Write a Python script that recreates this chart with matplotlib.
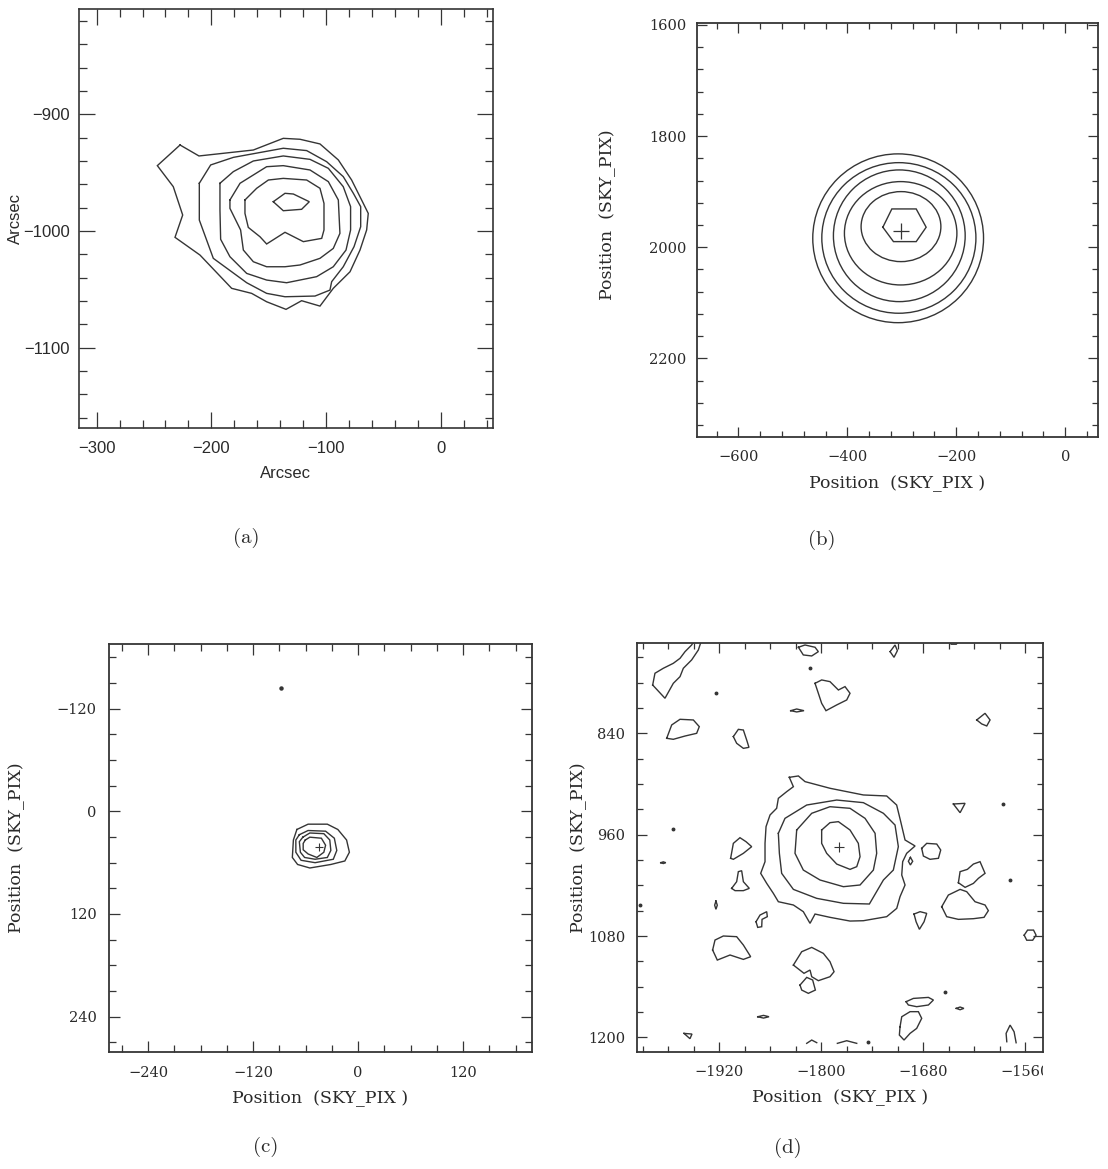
import matplotlib.pyplot as plt
from matplotlib.patches import Ellipse
from matplotlib.ticker import MultipleLocator, ScalarFormatter
from matplotlib.transforms import Bbox, TransformedBbox

FIG_W, FIG_H = 1108, 1169
INK = "#353535"
TEXT = "#2a2a2a"

# ---------------------------------------------------------------- panel (a)
A_XLIM = (-315.4, 45.3)
A_YLIM = (-1169.0, -809.8)
A_XTICKS = [-300, -200, -100, 0]
A_YTICKS = [-1100, -1000, -900]

# contour levels, outermost first (arcsec)
A_CONTOURS = [
    [(-227.3, -926.3), (-210.8, -935.7), (-163.4, -930.6), (-137.3, -920.6),
     (-122.7, -921.4), (-105.3, -925.4), (-89.3, -939.1), (-77.7, -956.3),
     (-69.0, -973.4), (-63.2, -984.9), (-64.6, -999.1), (-70.4, -1016.3),
     (-79.1, -1034.9), (-93.7, -1049.1), (-105.3, -1064.3), (-121.3, -1059.7),
     (-134.9, -1067.1), (-151.8, -1060.6), (-164.9, -1053.4), (-182.3, -1049.1),
     (-209.9, -1020.6), (-231.7, -1005.4), (-225.0, -986.3), (-233.2, -962.0),
     (-247.1, -944.0)],
    [(-210.5, -959.1), (-200.6, -943.4), (-180.8, -936.9), (-137.3, -929.1),
     (-116.9, -931.1), (-99.5, -940.6), (-85.0, -953.4), (-76.2, -967.7),
     (-69.8, -979.1), (-69.8, -996.3), (-75.6, -1013.4), (-85.0, -1030.6),
     (-95.1, -1043.4), (-96.6, -1050.6), (-109.6, -1055.7), (-135.8, -1056.3),
     (-151.8, -1053.4), (-169.2, -1044.3), (-198.3, -1023.4), (-210.5, -990.6)],
    [(-192.5, -959.1), (-180.8, -949.1), (-163.4, -940.0), (-137.3, -935.7),
     (-114.0, -938.6), (-98.0, -946.3), (-85.0, -962.0), (-78.6, -979.1),
     (-78.6, -999.1), (-82.6, -1016.3), (-93.7, -1030.6), (-108.2, -1039.1),
     (-134.4, -1044.3), (-151.8, -1042.0), (-169.2, -1036.3), (-183.8, -1022.0),
     (-191.9, -1007.1), (-192.5, -982.0)],
    [(-183.8, -973.4), (-175.0, -959.1), (-151.8, -944.9), (-137.3, -944.0),
     (-114.0, -947.7), (-98.0, -957.7), (-89.3, -973.4), (-87.9, -1002.0),
     (-93.7, -1014.9), (-105.3, -1023.4), (-122.7, -1029.1), (-135.8, -1030.6),
     (-151.8, -1030.6), (-163.4, -1026.3), (-172.1, -1016.3), (-174.5, -999.1),
     (-183.8, -980.6)],
    [(-170.7, -973.4), (-160.5, -963.4), (-150.3, -956.3), (-137.3, -954.9),
     (-116.9, -956.3), (-105.3, -963.4), (-101.8, -976.3), (-101.8, -999.1),
     (-103.8, -1006.3), (-119.8, -1009.1), (-135.8, -1001.1), (-151.8, -1011.1),
     (-157.6, -1004.9), (-167.8, -996.9), (-170.7, -984.9)],
    [(-146.0, -974.9), (-135.8, -967.7), (-128.5, -968.3), (-114.6, -974.9),
     (-121.3, -981.4), (-137.3, -982.6)],
]

# ---------------------------------------------------------------- panel (b)
B_XLIM = (-676.4, 60.6)
B_YLIM = (2341.0, 1597.0)
B_XTICKS = [-600, -400, -200, 0]
B_YTICKS = [1600, 1800, 2000, 2200]

# nearly circular levels: centre, half-width, half-height
B_RING_CX = [-306.7, -305.4, -304.6, -302.1, -301.5]
B_RING_CY = [1983.9, 1983.3, 1979.4, 1974.9, 1962.9]
B_RING_RX = [156.7, 141.4, 120.9, 103.2, 73.2]
B_RING_RY = [151.9, 135.5, 118.5, 93.0, 63.0]
B_CORE = [(-334.8, 1964.0), (-318.3, 1931.1), (-273.6, 1931.1),
          (-255.3, 1964.0), (-273.6, 1989.9), (-315.3, 1989.9)]
B_PEAK = (-301.2, 1970.1)

# ---------------------------------------------------------------- panel (c)
C_XLIM = (-285.3, 198.7)
C_YLIM = (281.7, -195.7)
C_XTICKS = [-240, -120, 0, 120]
C_YTICKS = [-120, 0, 120, 240]

C_CONTOURS = [
    [(-70.0, 21.3), (-57.2, 15.1), (-35.2, 15.1), (-23.2, 21.3), (-13.2, 33.6),
     (-10.0, 47.9), (-15.2, 58.1), (-31.2, 62.2), (-55.2, 66.3), (-69.2, 62.2),
     (-75.2, 54.0), (-74.0, 33.6)],
    [(-67.2, 27.4), (-57.2, 22.5), (-37.2, 23.3), (-27.2, 31.5), (-24.4, 45.8),
     (-28.4, 56.1), (-49.2, 60.1), (-65.2, 57.3), (-71.2, 47.9), (-71.2, 33.6)],
    [(-63.2, 30.3), (-55.2, 25.4), (-39.2, 26.2), (-32.4, 33.6), (-31.2, 45.8),
     (-35.2, 54.0), (-49.2, 56.1), (-61.2, 54.0), (-66.0, 47.9), (-67.2, 35.6)],
    [(-60.4, 33.6), (-55.2, 30.3), (-42.0, 31.5), (-37.2, 39.7), (-39.2, 47.9),
     (-47.2, 54.0), (-57.2, 49.9), (-62.8, 45.0), (-62.8, 37.6)],
]
C_PEAK = (-45.2, 41.7)
C_DOTS_X = [-88.0]
C_DOTS_Y = [-144.4]

# ---------------------------------------------------------------- panel (d)
D_XLIM = (-2016.6, -1538.5)
D_YLIM = (1217.0, 732.7)
D_XTICKS = [-1920, -1800, -1680, -1560]
D_YTICKS = [840, 960, 1080, 1200]

D_SOURCE = [
    [(-1837.6, 892.1), (-1826.9, 890.5), (-1819.1, 897.2), (-1789.6, 905.1),
     (-1750.4, 913.0), (-1722.9, 914.2), (-1711.2, 924.9), (-1706.4, 944.6),
     (-1701.3, 966.3), (-1689.5, 973.4), (-1699.4, 982.1), (-1704.1, 992.0),
     (-1705.2, 1007.8), (-1701.3, 1019.6), (-1707.2, 1033.4), (-1711.1, 1047.3),
     (-1722.9, 1057.1), (-1750.4, 1061.9), (-1766.1, 1062.3), (-1789.7, 1057.9),
     (-1807.3, 1054.0), (-1813.2, 1065.0), (-1821.1, 1051.2), (-1832.8, 1043.3),
     (-1850.5, 1039.4), (-1856.4, 1029.5), (-1864.2, 1017.7), (-1871.3, 1005.8),
     (-1866.2, 992.0), (-1866.2, 970.3), (-1865.0, 950.5), (-1860.3, 936.7),
     (-1852.5, 928.8), (-1850.5, 917.0), (-1840.7, 909.1), (-1832.8, 903.2)],
    [(-1850.5, 958.4), (-1842.7, 940.7), (-1817.1, 924.9), (-1781.8, 919.0),
     (-1750.4, 922.1), (-1726.8, 934.7), (-1713.1, 948.6), (-1709.2, 974.2),
     (-1715.1, 1001.9), (-1726.8, 1013.7), (-1743.3, 1042.1), (-1773.9, 1041.3),
     (-1805.4, 1035.4), (-1832.8, 1024.8), (-1846.6, 1005.8), (-1849.3, 982.1)],
    [(-1828.9, 954.5), (-1811.2, 934.7), (-1789.7, 926.9), (-1766.1, 928.8),
     (-1748.4, 940.7), (-1736.6, 958.4), (-1734.7, 982.1), (-1738.6, 1001.9),
     (-1754.3, 1019.6), (-1773.9, 1021.6), (-1801.4, 1013.7), (-1821.1, 1001.9),
     (-1830.9, 982.1)],
    [(-1799.5, 954.5), (-1789.7, 945.8), (-1779.8, 944.6), (-1766.1, 954.5),
     (-1756.3, 970.3), (-1754.3, 986.1), (-1758.2, 997.9), (-1766.1, 1001.1),
     (-1781.8, 994.8), (-1793.6, 982.1), (-1799.5, 970.3)],
]
D_PEAK = (-1778.7, 975.0)

# isolated lowest-level islands of background noise
D_NOISE = [
    [(-1998.5, 782.8), (-1995.8, 768.9), (-1986.0, 763.0), (-1974.2, 757.1),
     (-1966.3, 751.2), (-1960.4, 743.3), (-1952.6, 735.4), (-1946.7, 725.5),
     (-1939.6, 725.5), (-1944.7, 741.3), (-1952.6, 753.1), (-1962.4, 763.0),
     (-1966.3, 772.9), (-1974.2, 780.8), (-1984.0, 798.5)],
    [(-1826.9, 738.1), (-1819.1, 735.4), (-1807.3, 738.1), (-1803.4, 743.3),
     (-1811.2, 748.4), (-1821.1, 747.2)],
    [(-1718.9, 743.3), (-1713.1, 735.4), (-1710.3, 742.1), (-1714.3, 750.0)],
    [(-1649.0, 731.0), (-1638.0, 731.0), (-1641.0, 734.5), (-1647.0, 734.5)],
    [(-1836.0, 813.2), (-1828.9, 811.2), (-1820.3, 813.2), (-1828.9, 814.7)],
    [(-1807.3, 780.8), (-1799.5, 776.8), (-1789.7, 778.8), (-1779.8, 788.7),
     (-1772.0, 784.7), (-1766.1, 792.6), (-1770.0, 800.5), (-1781.8, 806.4),
     (-1794.4, 813.2), (-1799.5, 804.5), (-1803.4, 792.6)],
    [(-1616.9, 824.2), (-1607.1, 816.3), (-1601.2, 824.2), (-1605.1, 831.3),
     (-1611.0, 828.9)],
    [(-1982.0, 845.9), (-1976.1, 830.1), (-1966.3, 823.4), (-1950.6, 824.2),
     (-1943.6, 832.1), (-1946.7, 840.0), (-1960.4, 843.2), (-1974.2, 847.1)],
    [(-1903.5, 843.9), (-1897.6, 835.3), (-1891.7, 836.1), (-1887.8, 847.9),
     (-1885.1, 856.6), (-1891.7, 857.8), (-1899.6, 851.8)],
    [(-1989.0, 993.2), (-1986.0, 992.2), (-1983.0, 993.2), (-1986.0, 994.2)],
    [(-1906.7, 988.0), (-1903.5, 970.3), (-1895.7, 963.6), (-1888.6, 968.3),
     (-1881.9, 974.2), (-1891.7, 982.1), (-1903.5, 989.2)],
    [(-1905.5, 1023.6), (-1899.6, 1015.7), (-1897.6, 1003.8), (-1893.7, 1002.7),
     (-1891.7, 1015.7), (-1884.7, 1023.6), (-1891.7, 1026.3), (-1901.5, 1026.3)],
    [(-1924.0, 1038.6), (-1922.4, 1043.5), (-1924.0, 1048.4), (-1925.5, 1043.5)],
    [(-1876.8, 1063.1), (-1872.1, 1055.2), (-1864.2, 1051.2), (-1863.5, 1057.1),
     (-1869.7, 1060.3), (-1870.1, 1069.0), (-1874.8, 1069.8)],
    [(-1927.9, 1096.6), (-1925.1, 1084.8), (-1915.3, 1080.0), (-1899.6, 1080.8),
     (-1891.7, 1090.7), (-1883.1, 1104.5), (-1891.7, 1107.7), (-1907.4, 1102.5),
     (-1922.4, 1108.5)],
    [(-1832.8, 1114.4), (-1823.0, 1098.6), (-1811.2, 1093.5), (-1797.5, 1100.6),
     (-1789.7, 1110.4), (-1784.9, 1122.3), (-1789.7, 1128.2), (-1803.4, 1132.9),
     (-1811.2, 1128.2), (-1813.2, 1120.3), (-1820.3, 1124.2)],
    [(-1825.0, 1138.1), (-1817.1, 1129.0), (-1810.1, 1132.1), (-1806.9, 1144.0),
     (-1815.2, 1147.9), (-1823.0, 1144.0)],
    [(-1700.1, 1157.8), (-1691.5, 1153.9), (-1673.8, 1152.7), (-1667.9, 1155.8),
     (-1673.8, 1161.7), (-1687.6, 1163.7), (-1697.4, 1161.7)],
    [(-1641.0, 1165.7), (-1636.5, 1164.1), (-1632.0, 1165.7), (-1636.5, 1167.3)],
    [(-1707.2, 1187.4), (-1705.2, 1175.6), (-1695.4, 1169.6), (-1685.6, 1169.6),
     (-1681.7, 1177.5), (-1687.6, 1189.4), (-1695.4, 1195.3), (-1702.5, 1203.2),
     (-1708.0, 1197.3)],
    [(-1874.8, 1175.6), (-1868.0, 1174.0), (-1861.5, 1175.6), (-1868.0, 1177.2)],
    [(-1961.6, 1195.3), (-1952.2, 1196.1), (-1954.6, 1201.6)],
    [(-1658.1, 1045.3), (-1650.3, 1031.5), (-1636.5, 1024.8), (-1628.7, 1027.5),
     (-1618.9, 1039.4), (-1607.1, 1043.3), (-1603.2, 1050.0), (-1608.3, 1057.9),
     (-1620.8, 1059.5), (-1638.5, 1060.3), (-1652.3, 1057.1)],
    [(-1638.5, 1016.9), (-1636.5, 1003.8), (-1627.9, 1001.1), (-1620.8, 994.8),
     (-1613.0, 992.0), (-1607.1, 1005.8), (-1614.9, 1011.7), (-1620.8, 1017.7),
     (-1630.6, 1022.4)],
    [(-1681.7, 976.2), (-1675.8, 970.3), (-1664.0, 971.1), (-1659.3, 978.2),
     (-1662.0, 988.0), (-1671.9, 989.2), (-1679.7, 985.3)],
    [(-1695.0, 986.9), (-1692.3, 991.5), (-1695.0, 995.9), (-1697.4, 991.5)],
    [(-1644.4, 923.7), (-1630.6, 922.9), (-1636.5, 934.0)],
    [(-1690.7, 1054.0), (-1683.6, 1051.2), (-1675.8, 1053.2), (-1678.9, 1063.1),
     (-1684.4, 1072.1), (-1688.3, 1063.1)],
    [(-1561.0, 1079.0), (-1557.0, 1073.0), (-1550.0, 1073.0), (-1547.0, 1079.0),
     (-1551.0, 1085.0), (-1558.0, 1085.0)],
]

# level crossings that run into the lower edge of the map
D_ARCS = [
    [(-1817.1, 1207.1), (-1811.2, 1203.2), (-1805.3, 1206.3)],
    [(-1781.0, 1207.1), (-1770.0, 1204.0), (-1758.2, 1207.1)],
    [(-1581.5, 1205.2), (-1582.3, 1195.3), (-1577.6, 1185.5), (-1572.9, 1193.4),
     (-1570.5, 1206.4)],
]
D_DOTS_X = [-1813.2, -1923.9, -1974.2, -1654.2, -1585.5, -1577.6, -1744.5, -2013.4]
D_DOTS_Y = [762.2, 792.6, 953.7, 1146.0, 923.7, 1013.7, 1206.0, 1043.3]

PANEL_TAGS = ["(a)", "(b)", "(c)", "(d)"]


def add_panel(fig, x0, y0, x1, y1):
    """Axes placed by its frame corners in figure pixels (top-left origin)."""
    return fig.add_axes([x0 / FIG_W, 1 - y1 / FIG_H,
                         (x1 - x0) / FIG_W, (y1 - y0) / FIG_H])


def draw_loop(ax, pts, closed=True):
    xs = [p[0] for p in pts]
    ys = [p[1] for p in pts]
    if closed:
        xs.append(xs[0])
        ys.append(ys[0])
    ax.plot(xs, ys, color=INK, lw=1.0, solid_joinstyle="miter")


def frame(ax, xticks, yticks, xlim, ylim, minor_x, minor_y, family, size,
          major_len, minor_len, xpad, ypad, spine_w):
    ax.set_xticks(xticks)
    ax.set_yticks(yticks)
    ax.set_xlim(*xlim)
    ax.set_ylim(*ylim)
    ax.xaxis.set_minor_locator(MultipleLocator(minor_x))
    ax.yaxis.set_minor_locator(MultipleLocator(minor_y))
    for axis in (ax.xaxis, ax.yaxis):
        axis.set_major_formatter(ScalarFormatter(useOffset=False))
    ax.tick_params(which="both", direction="in", top=True, right=True,
                   width=0.9, color=INK, labelcolor=TEXT,
                   labelsize=size, labelfontfamily=family)
    ax.tick_params(which="major", length=major_len)
    ax.tick_params(which="minor", length=minor_len)
    ax.tick_params(axis="x", pad=xpad)
    ax.tick_params(axis="y", pad=ypad)
    for sp in ax.spines.values():
        sp.set_linewidth(spine_w)
        sp.set_color(INK)


fig = plt.figure(figsize=(FIG_W / 100, FIG_H / 100), dpi=100)
fig.patch.set_facecolor("white")

serif = "DejaVu Serif"
sans = "Liberation Sans"
pos_x = "Position  (SKY_PIX )"
pos_y = "Position  (SKY_PIX)"

# (a) heliocentric map in arcsec
ax_a = add_panel(fig, 79.0, 9.0, 492.7, 428.3)
for level in A_CONTOURS:
    draw_loop(ax_a, level)
frame(ax_a, A_XTICKS, A_YTICKS, A_XLIM, A_YLIM, 20, 20, sans, 12,
      11.5, 5.5, 9, 6.5, 1.2)
ax_a.set_xlabel("Arcsec", fontfamily=sans, fontsize=12, color=TEXT)
ax_a.set_ylabel("Arcsec", fontfamily=sans, fontsize=12, color=TEXT)
ax_a.xaxis.set_label_coords(0.5, -0.090)
ax_a.yaxis.set_label_coords(-0.135, 0.5)

# (b)
ax_b = add_panel(fig, 696.7, 23.3, 1098.3, 436.7)
for cx, cy, rx, ry in zip(B_RING_CX, B_RING_CY, B_RING_RX, B_RING_RY):
    ax_b.add_patch(Ellipse((cx, cy), 2 * rx, 2 * ry, fill=False,
                           edgecolor=INK, lw=1.0))
draw_loop(ax_b, B_CORE)
ax_b.plot(*B_PEAK, marker="+", ms=11, mew=0.9, color=INK)
frame(ax_b, B_XTICKS, B_YTICKS, B_XLIM, B_YLIM, 40, 40, serif, 10.5,
      7.2, 4.3, 9.4, 7.7, 1.3)
ax_b.set_xlabel(pos_x, fontfamily=serif, fontsize=12.5, color=TEXT)
ax_b.set_ylabel(pos_y, fontfamily=serif, fontsize=12.5, color=TEXT)
ax_b.xaxis.set_label_coords(0.5, -0.093)
ax_b.yaxis.set_label_coords(-0.201, 0.5375)

# (c)
ax_c = add_panel(fig, 108.5, 643.8, 532.0, 1052.3)
for level in C_CONTOURS:
    draw_loop(ax_c, level)
ax_c.plot(*C_PEAK, marker="+", ms=6, mew=0.8, color=INK)
ax_c.plot(C_DOTS_X, C_DOTS_Y, "o", ms=2.2, color=INK)
frame(ax_c, C_XTICKS, C_YTICKS, C_XLIM, C_YLIM, 30, 30, serif, 10.5,
      8.0, 4.8, 10, 8.6, 1.3)
ax_c.set_xlabel(pos_x, fontfamily=serif, fontsize=12.5, color=TEXT)
ax_c.set_ylabel(pos_y, fontfamily=serif, fontsize=12.5, color=TEXT)
ax_c.xaxis.set_label_coords(0.5, -0.092)
ax_c.yaxis.set_label_coords(-0.196, 0.5)

# (d)
ax_d = add_panel(fig, 637.3, 642.7, 1043.3, 1051.7)
for level in D_SOURCE:
    draw_loop(ax_d, level)
for blob in D_NOISE:
    draw_loop(ax_d, blob)
for arc in D_ARCS:
    draw_loop(ax_d, arc, closed=False)
ax_d.plot(D_DOTS_X, D_DOTS_Y, "o", ms=1.8, color=INK)
ax_d.plot(*D_PEAK, marker="+", ms=7, mew=0.8, color=INK)
frame(ax_d, D_XTICKS, D_YTICKS, D_XLIM, D_YLIM, 30, 30, serif, 10.5,
      7.2, 4.3, 9.6, 8.6, 1.3)
ax_d.set_xlabel(pos_x, fontfamily=serif, fontsize=12.5, color=TEXT)
ax_d.set_ylabel(pos_y, fontfamily=serif, fontsize=12.5, color=TEXT)
ax_d.xaxis.set_label_coords(0.5, -0.091)
ax_d.yaxis.set_label_coords(-0.124, 0.498)

# the last abscissa label is cut off at the right edge of the frame
last = ax_d.xaxis.get_major_ticks()[-1].label1
last.set_clip_box(TransformedBbox(Bbox([[-1.0, -1.0], [1.0, 1.0]]), ax_d.transAxes))
last.set_clip_on(True)

tag_pos = [(246.7, 538.3), (822.0, 540.0), (266.0, 1147.0), (787.5, 1148.0)]
for tag, (tx, ty) in zip(PANEL_TAGS, tag_pos):
    fig.text(tx / FIG_W, 1 - ty / FIG_H, tag, family="cmr10", fontsize=15,
             ha="center", va="center", color=TEXT)

fig.savefig("out.png", dpi=100, facecolor="white")
